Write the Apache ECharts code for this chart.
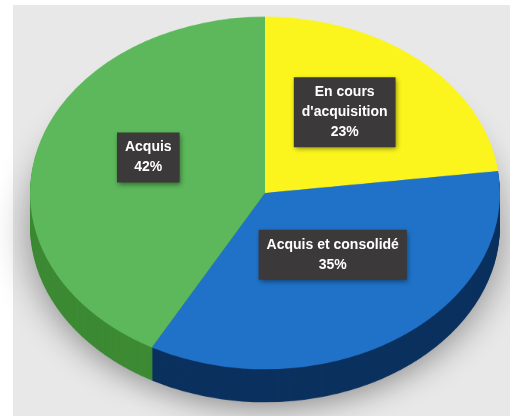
<!doctype html>
<html><head><meta charset="utf-8" />
<style>
  html,body{margin:0;padding:0;width:510px;height:416px;background:#ffffff;overflow:hidden}
  #panel{position:absolute;left:13px;top:5px;width:497px;height:411px;background:#e8e8e8}
  #pie{position:absolute;left:0;top:0;width:510px;height:555px;transform:scaleY(0.75);transform-origin:0 0}
  #labels{position:absolute;left:0;top:0;width:510px;height:416px}
</style>
</head><body>
<div id="panel"></div>
<div id="pie"></div>
<div id="labels"></div>
<script src="https://cdn.jsdelivr.net/npm/echarts@6/dist/echarts.min.js"></script>
<script>
// data
const categories = ["En cours\nd'acquisition", 'Acquis et consolidé', 'Acquis'];
const values = [23, 35, 42];
const topColors = ['#fbf51d', '#1f72c8', '#5cb85a'];
const sideColors = ['#c9c21a', '#0b315f', '#3d8a34'];

// ellipse squash for the 3D look
const squash = 0.75;
const cx = 265, cyScreen = 193, radius = 235;
const cyPie = cyScreen / squash;
const depthLayers = 22, layerStep = 2;

const data = categories.map((c, i) => ({ name: c, value: values[i] }));

// slices: side layers (bottom to top) then the top face
const series = [];
for (let k = depthLayers; k >= 1; k--) {
  const bottom = k === depthLayers;
  series.push({
    type: 'pie', silent: true, animation: false, startAngle: 90, clockwise: true,
    center: [cx, cyPie + k * layerStep], radius: [0, radius],
    label: { show: false }, labelLine: { show: false },
    data: data.map((d, i) => {
      const st = { color: sideColors[i] };
      if (bottom) { st.shadowBlur = 38; st.shadowColor = 'rgba(0,0,0,0.4)'; st.shadowOffsetY = 8; }
      return { name: d.name, value: d.value, itemStyle: st };
    })
  });
}
series.push({
  type: 'pie', silent: true, animation: false, startAngle: 90, clockwise: true,
  center: [cx, cyPie], radius: [0, radius],
  label: { show: false }, labelLine: { show: false },
  data: data.map((d, i) => ({ name: d.name, value: d.value, itemStyle: { color: topColors[i] } }))
});

const pieChart = echarts.init(document.getElementById('pie'));
pieChart.setOption({ backgroundColor: 'transparent', series });

// labels on an unsquashed layer, moved onto the ellipse
const labelCy = 180;
const labelChart = echarts.init(document.getElementById('labels'));
labelChart.setOption({
  backgroundColor: 'transparent',
  series: [{
    type: 'pie', silent: true, animation: false, startAngle: 90, clockwise: true,
    center: [cx, labelCy], radius: [0, radius],
    itemStyle: { color: 'rgba(0,0,0,0)' },
    labelLine: { show: false },
    label: {
      show: true, position: 'inside', formatter: '{b}\n{d}%',
      color: '#ffffff', fontFamily: 'Liberation Sans, Arial, sans-serif', fontWeight: 'bold',
      fontSize: 14, lineHeight: 20, align: 'center',
      backgroundColor: '#3b3939', padding: [5, 8],
      shadowBlur: 5, shadowColor: 'rgba(0,0,0,0.45)', shadowOffsetX: 1, shadowOffsetY: 2
    },
    labelLayout: function (p) {
      const r = p.labelRect;
      const x = r.x + r.width / 2;
      const y = r.y + r.height / 2;
      return { x: x, y: labelCy + (y - labelCy) * squash };
    },
    data: data
  }]
});
</script>
</body></html>
